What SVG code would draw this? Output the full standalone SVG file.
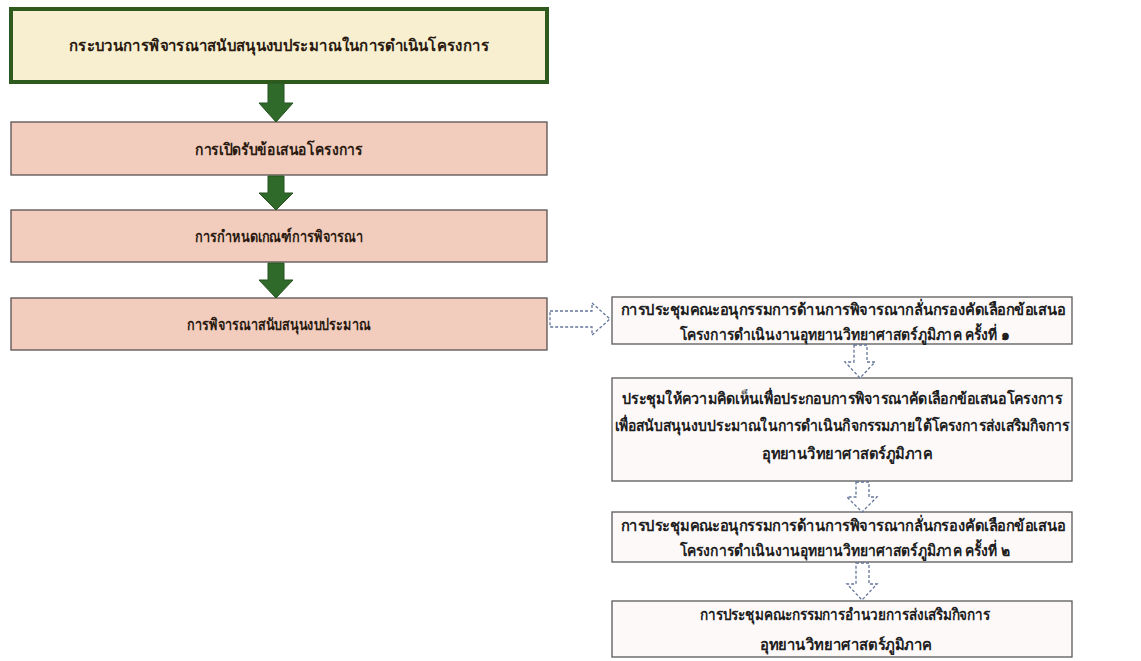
<svg xmlns="http://www.w3.org/2000/svg" width="1141" height="661" viewBox="0 0 1141 661">
<defs>
<style>
.t{font-family:"Noto Sans","DejaVu Sans",sans-serif;font-weight:bold;fill:#2a1a10;text-anchor:middle;}
.l{font-size:16px;}
.r{font-family:"Noto Sans","DejaVu Sans",sans-serif;font-weight:bold;fill:#1e1e1e;text-anchor:middle;font-size:15.5px;}
.pink{fill:#f2ccbd;stroke:#5a5050;stroke-width:1.3;}
.wbox{fill:#fdf9f9;stroke:#5a5a5a;stroke-width:1.3;}
.garrow{fill:#2f6a2a;stroke:#26521f;stroke-width:1;}
.darrow{fill:#ffffff;stroke:#64769a;stroke-width:1.3;stroke-dasharray:3 2;}
</style>
</defs>
<rect width="1141" height="661" fill="#ffffff"/>
<g id="n1">
<rect x="11" y="9" width="536" height="73" fill="#f7efcf" stroke="#2e5a1e" stroke-width="4"/>
<text class="t l" x="279" y="51" textLength="420" lengthAdjust="spacingAndGlyphs">กระบวนการพิจารณาสนับสนุนงบประมาณในการดำเนินโครงการ</text>
</g>
<g id="n2">
<rect class="pink" x="11" y="122" width="536" height="53"/>
<text class="t l" x="279" y="155" textLength="168" lengthAdjust="spacingAndGlyphs">การเปิดรับข้อเสนอโครงการ</text>
</g>
<g id="n3">
<rect class="pink" x="11" y="210" width="536" height="52"/>
<text class="t l" x="279" y="242" textLength="168" lengthAdjust="spacingAndGlyphs">การกำหนดเกณฑ์การพิจารณา</text>
</g>
<g id="n4">
<rect class="pink" x="11" y="298" width="536" height="52"/>
<text class="t l" x="279" y="330" textLength="184" lengthAdjust="spacingAndGlyphs">การพิจารณาสนับสนุนงบประมาณ</text>
</g>
<g id="n5">
<rect class="wbox" x="612" y="297" width="460" height="47"/>
<text class="r" x="843" y="315" textLength="445" lengthAdjust="spacingAndGlyphs">การประชุมคณะอนุกรรมการด้านการพิจารณากลั่นกรองคัดเลือกข้อเสนอ</text>
<text class="r" x="845" y="340" textLength="330" lengthAdjust="spacingAndGlyphs">โครงการดำเนินงานอุทยานวิทยาศาสตร์ภูมิภาค ครั้งที่ ๑</text>
</g>
<g id="n6">
<rect class="wbox" x="612" y="378" width="460" height="103"/>
<text class="r" x="842" y="404" textLength="440" lengthAdjust="spacingAndGlyphs">ประชุมให้ความคิดเห็นเพื่อประกอบการพิจารณาคัดเลือกข้อเสนอโครงการ</text>
<text class="r" x="842" y="431" textLength="455" lengthAdjust="spacingAndGlyphs">เพื่อสนับสนุนงบประมาณในการดำเนินกิจกรรมภายใต้โครงการส่งเสริมกิจการ</text>
<text class="r" x="847" y="459" textLength="170" lengthAdjust="spacingAndGlyphs">อุทยานวิทยาศาสตร์ภูมิภาค</text>
</g>
<g id="n7">
<rect class="wbox" x="612" y="512" width="460" height="50"/>
<text class="r" x="843" y="531" textLength="445" lengthAdjust="spacingAndGlyphs">การประชุมคณะอนุกรรมการด้านการพิจารณากลั่นกรองคัดเลือกข้อเสนอ</text>
<text class="r" x="845" y="556" textLength="330" lengthAdjust="spacingAndGlyphs">โครงการดำเนินงานอุทยานวิทยาศาสตร์ภูมิภาค ครั้งที่ ๒</text>
</g>
<g id="n8">
<rect class="wbox" x="612" y="601" width="460" height="56"/>
<text class="r" x="845" y="620" textLength="290" lengthAdjust="spacingAndGlyphs">การประชุมคณะกรรมการอำนวยการส่งเสริมกิจการ</text>
<text class="r" x="846" y="650" textLength="172" lengthAdjust="spacingAndGlyphs">อุทยานวิทยาศาสตร์ภูมิภาค</text>
</g>
<g id="connectors">
<polygon class="garrow" points="268,83 284,83 284,103 293,103 276,122 259,103 268,103"/>
<polygon class="garrow" points="268,176 284,176 284,193 293,193 276,210 259,193 268,193"/>
<polygon class="garrow" points="268,263 284,263 284,280 293,280 276,298 259,280 268,280"/>
<polygon class="darrow" points="550,311 592,311 592,303 610,319 592,335 592,327 550,327"/>
<polygon class="darrow" points="854,345 867,345 867,362 875,362 860,378 845,362 854,362"/>
<polygon class="darrow" points="856,482 869,482 869,497 877,497 862,512 847,497 856,497"/>
<polygon class="darrow" points="856,563 869,563 869,584 877,584 862,600 847,584 856,584"/>
</g>
</svg>
